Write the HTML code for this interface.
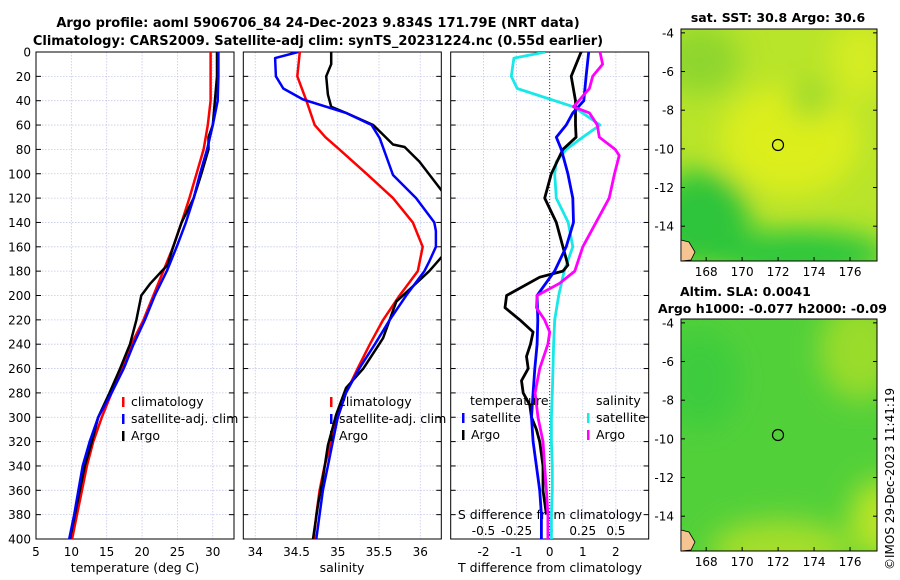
<!DOCTYPE html>
<html><head><meta charset="utf-8">
<style>
html,body{margin:0;padding:0;background:#fff;}
svg{display:block;font-family:"DejaVu Sans","Liberation Sans",sans-serif;}
</style></head>
<body>
<svg id="fig" width="900" height="580" viewBox="0 0 900 580" xmlns="http://www.w3.org/2000/svg">
<defs>
<clipPath id="c1"><rect x="36" y="52" width="198" height="487"/></clipPath>
<clipPath id="c2"><rect x="243.3" y="52" width="198" height="487"/></clipPath>
<clipPath id="c3"><rect x="450.7" y="52" width="198" height="487"/></clipPath>
<filter id="bl" x="-50%" y="-50%" width="200%" height="200%"><feGaussianBlur stdDeviation="14"/></filter>
<clipPath id="m1c"><rect x="681" y="29" width="196" height="232"/></clipPath>
<clipPath id="m2c"><rect x="681" y="319" width="196" height="232"/></clipPath>
</defs>
<text x="318" y="27" text-anchor="middle" font-size="13" font-weight="bold">Argo profile: aoml 5906706_84 24-Dec-2023 9.834S 171.79E (NRT data)</text>
<text x="318" y="45" text-anchor="middle" font-size="13" font-weight="bold">Climatology: CARS2009. Satellite-adj clim: synTS_20231224.nc (0.55d earlier)</text>
<g id="plots"></g>
<g>
<text x="778" y="22" text-anchor="middle" font-size="12.5" font-weight="bold">sat. SST: 30.8 Argo: 30.6</text>
<g clip-path="url(#m1c)">
<rect x="681" y="29" width="196" height="232" fill="#b8e42a"/>
<g filter="url(#bl)">
<ellipse cx="700" cy="60" rx="40" ry="35" fill="#8ed62e"/>
<ellipse cx="790" cy="140" rx="70" ry="55" fill="#dcee1c"/>
<ellipse cx="860" cy="60" rx="30" ry="40" fill="#d4ec20"/>
<ellipse cx="700" cy="220" rx="50" ry="50" fill="#2ec43a"/>
<ellipse cx="800" cy="255" rx="90" ry="25" fill="#2cc63c"/>
<ellipse cx="810" cy="100" rx="20" ry="18" fill="#94d82e"/>
</g></g>
<rect x="681" y="29" width="196" height="232" fill="none" stroke="#000" stroke-width="1"/>
<circle cx="778" cy="145" r="5.5" fill="none" stroke="#000" stroke-width="1.2"/>
<path d="M681 240 l8 2 l6 10 l-4 8 l-10 1z" fill="#f6c490" stroke="#000" stroke-width="0.8"/>
</g>
<g>
<text x="680" y="296" font-size="12.5" font-weight="bold">Altim. SLA: 0.0041</text>
<text x="658" y="313" font-size="12.5" font-weight="bold">Argo h1000: -0.077 h2000: -0.09</text>
<g clip-path="url(#m2c)">
<rect x="681" y="319" width="196" height="232" fill="#52d03a"/>
<g filter="url(#bl)">
<ellipse cx="860" cy="350" rx="40" ry="50" fill="#9adc2c"/>
<ellipse cx="780" cy="550" rx="70" ry="30" fill="#a4de2a"/>
<ellipse cx="880" cy="520" rx="30" ry="40" fill="#b8e428"/>
<ellipse cx="700" cy="380" rx="40" ry="50" fill="#3ccc3c"/>
</g></g>
<rect x="681" y="319" width="196" height="232" fill="none" stroke="#000" stroke-width="1"/>
<circle cx="778" cy="435" r="5.5" fill="none" stroke="#000" stroke-width="1.2"/>
<path d="M681 530 l8 2 l6 10 l-4 8 l-10 1z" fill="#f6c490" stroke="#000" stroke-width="0.8"/>
</g>
<g id="mapaxes"></g>
<text transform="translate(894,570) rotate(-90)" font-size="12">©IMOS 29-Dec-2023 11:41:19</text>
</svg>
<script>
const depthTicks=[0,20,40,60,80,100,120,140,160,180,200,220,240,260,280,300,320,340,360,380,400];
const tTicks=[5,10,15,20,25,30];
const sTicks=[34,34.5,35,35.5,36];
const dtTicks=[-2,-1,0,1,2];
const dsTicks=[-0.5,-0.25,0,0.25,0.5];
const dsTickLabels=["-0.5","-0.25","0","0.25","0.5"];

const tClimD=[0,20,40,60,80,100,120,140,160,180,200,220,240,260,280,300,320,340,360,380,400];
const tClim=[29.7,29.7,29.7,29.3,28.7,27.7,26.7,25.6,24.4,23.0,21.6,20.2,18.5,17.1,15.7,14.3,13.1,12.2,11.5,10.8,10.1];
const tSatD=[0,20,40,60,80,100,120,140,160,180,200,220,240,260,280,300,320,340,360,380,400];
const tSat=[30.8,30.8,30.7,30.0,29.2,28.2,27.3,26.2,24.9,23.5,21.8,20.4,18.8,17.4,15.7,13.8,12.6,11.6,11.0,10.4,9.7];
const tArgoD=[0,20,40,60,70,80,100,120,140,160,175,180,190,200,220,240,260,280,300,320,340,360,380,400];
const tArgo=[30.6,30.6,30.3,30.0,29.4,29.4,28.4,27.3,25.6,24.4,23.6,22.8,21.2,19.9,19.2,18.3,16.9,15.4,13.8,12.9,11.9,11.2,10.5,9.8];

const sClimD=[0,20,40,60,70,80,100,120,140,160,180,200,220,240,260,280,300,320,340,360,380,400];
const sClim=[34.54,34.51,34.62,34.72,34.85,35.02,35.35,35.67,35.91,36.03,35.97,35.75,35.55,35.39,35.24,35.10,35.00,34.92,34.84,34.78,34.74,34.71];
const sSatD=[0,5,20,30,39,50,60,71,101,120,140,147,160,172,180,200,220,240,260,280,300,320,340,360,380,400];
const sSat=[34.52,34.24,34.25,34.34,34.58,35.10,35.41,35.51,35.67,35.95,36.17,36.19,36.19,36.11,36.05,35.83,35.63,35.45,35.26,35.10,35.00,34.94,34.88,34.82,34.78,34.74];
const sArgoD=[0,10,20,35,45,50,60,76,78,90,113,130,150,169,180,195,205,235,260,276,298,323,350,372,400];
const sArgo=[34.92,34.92,34.86,34.88,34.92,35.10,35.43,35.67,35.81,35.99,36.25,36.45,36.5,36.25,36.11,35.87,35.71,35.55,35.31,35.10,34.98,34.88,34.82,34.76,34.70];

const dtSatD=[0,20,40,50,60,70,80,100,120,140,160,180,200,220,240,260,280,300,320,340,360,380,400];
const dtSat=[1.18,1.1,1.03,0.7,0.5,0.2,0.35,0.55,0.7,0.72,0.5,0.15,-0.38,-0.36,-0.38,-0.45,-0.5,-0.55,-0.5,-0.4,-0.3,-0.25,-0.25];
const dtArgoD=[0,20,40,60,70,80,100,120,140,160,175,180,185,200,210,220,230,240,250,260,270,280,290,300,310,320,340,360,380];
const dtArgo=[0.95,0.65,0.78,0.78,0.8,0.4,0.05,-0.15,0.2,0.4,0.55,0.4,-0.3,-1.3,-1.35,-0.9,-0.5,-0.58,-0.7,-0.65,-0.85,-0.8,-0.6,-0.55,-0.4,-0.3,-0.2,-0.2,-0.1];
const dsSatD=[0,5,20,30,45,60,70,80,90,100,120,140,160,180,200,220,240,260,280,300,320,340,360,380,400];
const dsSat=[-0.033,-0.27,-0.29,-0.245,0.18,0.38,0.25,0.125,0.05,0.038,0.05,0.14,0.175,0.11,0.068,0.038,0.03,0.025,0.02,0.013,0.013,0.02,0.02,0.013,0.013];
const dsArgoD=[0,10,20,30,45,50,60,70,80,85,100,120,140,160,180,190,200,210,220,230,240,260,280,300,320,340,360,380,400];
const dsArgo=[0.38,0.4,0.325,0.3,0.18,0.3,0.36,0.375,0.495,0.525,0.49,0.45,0.35,0.25,0.19,0.075,-0.095,-0.1,-0.038,0,-0.013,-0.075,-0.11,-0.088,-0.05,-0.038,-0.025,-0.013,-0.013];

const latTicks=[-4,-6,-8,-10,-12,-14];
const lonTicks=[168,170,172,174,176];

const NS="http://www.w3.org/2000/svg";
const TOP=52,BOT=539;
const yD=d=>TOP+d*(BOT-TOP)/400;
function mk(tag,attrs,parent){const e=document.createElementNS(NS,tag);for(const k in attrs)e.setAttribute(k,attrs[k]);parent.appendChild(e);return e;}
const root=document.getElementById('plots');

const panels=[
 {x0:36,x1:234,v0:5,v1:(234-36)/7.07+5,clip:'c1',grid:[10,15,20,25,30],name:'temperature-panel'},
 {x0:243.3,x1:441.3,v0:33.855,v1:33.855+198/82.5,clip:'c2',grid:[34,34.5,35,35.5,36],name:'salinity-panel'},
 {x0:450.7,x1:648.7,v0:-2.99,v1:-2.99+198/33.1,clip:'c3',grid:[-2,-1,0,1,2],name:'difference-panel'}
];
panels.forEach(p=>{p.sx=v=>p.x0+(v-p.v0)*(p.x1-p.x0)/(p.v1-p.v0);});
const p3s=v=>panels[2].sx(v*4);

panels.forEach((p,pi)=>{
 const g=mk('g',{},root);
 
 
 depthTicks.forEach(d=>{
  const l=mk('line',{x1:p.x0,x2:p.x1,y1:yD(d),y2:yD(d),stroke:'#c4c8e8','stroke-width':0.8,'stroke-dasharray':'1.5,1.5'},g);
  
  
  mk('line',{x1:p.x0,x2:p.x0+5,y1:yD(d),y2:yD(d),stroke:'#000'},g);
  mk('line',{x1:p.x1-5,x2:p.x1,y1:yD(d),y2:yD(d),stroke:'#000'},g);
 });
 p.grid.forEach(v=>{
  const l=mk('line',{x1:p.sx(v),x2:p.sx(v),y1:TOP,y2:BOT,stroke:'#c4c8e8','stroke-width':0.8,'stroke-dasharray':'1.5,1.5'},g);
  
  
 });
 const r=mk('rect',{x:p.x0,y:TOP,width:p.x1-p.x0,height:BOT-TOP,fill:'none',stroke:'#000','stroke-width':1},g);
 
 
});
{const l=mk('line',{x1:panels[2].sx(0),x2:panels[2].sx(0),y1:TOP,y2:BOT,stroke:'#335',"stroke-width":1,'stroke-dasharray':'1,2'},root);

}

depthTicks.forEach(d=>{
 const t=mk('text',{x:31,y:yD(d)+4.5,'text-anchor':'end','font-size':12},root);
 t.textContent=d;
 
 
});
function xlabels(ticks,sx,y,labels){ticks.forEach((v,i)=>{const t=mk('text',{x:sx(v),y:y,'text-anchor':'middle','font-size':12},root);t.textContent=labels?labels[i]:v;

});}
xlabels(tTicks,panels[0].sx,556);
xlabels(sTicks,panels[1].sx,556);
xlabels(dtTicks,panels[2].sx,556);
xlabels(dsTicks,p3s,535,dsTickLabels);
function title(x,y,s,name,anchor){const t=mk('text',{x:x,y:y,'text-anchor':anchor||'middle','font-size':12.5},root);t.textContent=s;

}
title(135,572,'temperature (deg C)','temperature-axis-title');
title(342,572,'salinity','salinity-axis-title');
title(550,572,'T difference from climatology','t-difference-axis-title');
title(550,519,'S difference from climatology','s-difference-axis-title');

function line(ds,vs,sx,color,w,clip,name){
 const pts=ds.map((d,i)=>sx(vs[i]).toFixed(1)+','+yD(d).toFixed(1)).join(' ');
 const l=mk('polyline',{points:pts,fill:'none',stroke:color,'stroke-width':w,'stroke-linejoin':'round','clip-path':'url(#'+clip+')'},root);
 
 
}
line(tClimD,tClim,panels[0].sx,'#f00',2.5,'c1','temp-climatology-line');
line(tArgoD,tArgo,panels[0].sx,'#000',2.5,'c1','temp-argo-line');
line(tSatD,tSat,panels[0].sx,'#00f',2.5,'c1','temp-satellite-line');
line(sClimD,sClim,panels[1].sx,'#f00',2.5,'c2','sal-climatology-line');
line(sArgoD,sArgo,panels[1].sx,'#000',2.5,'c2','sal-argo-line');
line(sSatD,sSat,panels[1].sx,'#00f',2.5,'c2','sal-satellite-line');
line(dsSatD,dsSat,p3s,'#18e8e8',2.8,'c3','sal-diff-satellite-line');
line(dtArgoD,dtArgo,panels[2].sx,'#000',2.8,'c3','temp-diff-argo-line');
line(dtSatD,dtSat,panels[2].sx,'#00f',2.8,'c3','temp-diff-satellite-line');
line(dsArgoD,dsArgo,p3s,'#f0f',2.8,'c3','sal-diff-argo-line');

function legend(x,y,color,label){
 const g=mk('g',{},root);
 
 
 mk('rect',{x:x,y:y-9,width:2.5,height:10,fill:color},g);
 const t=mk('text',{x:x+9,y:y,'font-size':12.5},g);t.textContent=label;
}
legend(122,406,'#f00','climatology');
legend(122,423,'#00f','satellite-adj. clim');
legend(122,440,'#000','Argo');
legend(330,406,'#f00','climatology');
legend(330,423,'#00f','satellite-adj. clim');
legend(330,440,'#000','Argo');
title(470,405,'temperature','legend-temperature-heading','start');
title(596,405,'salinity','legend-salinity-heading','start');
legend(462,422,'#00f','satellite');
legend(462,439,'#000','Argo');
legend(587,422,'#18e8e8','satellite');
legend(587,439,'#f0f','Argo');

const ma=document.getElementById('mapaxes');
[[29,261],[319,551]].forEach(([t0,t1],mi)=>{
 const latY=v=>t0+(-3.8-v)*(t1-t0)/12;
 const lonX=v=>681+(v-166.6)*196/10.9;
 latTicks.forEach(v=>{
  mk('line',{x1:681,x2:685,y1:latY(v),y2:latY(v),stroke:'#000'},ma);
  mk('line',{x1:873,x2:877,y1:latY(v),y2:latY(v),stroke:'#000'},ma);
  const t=mk('text',{x:674,y:latY(v)+4.5,'text-anchor':'end','font-size':12},ma);t.textContent=v;
  
  
 });
 lonTicks.forEach(v=>{
  mk('line',{x1:lonX(v),x2:lonX(v),y1:t1-4,y2:t1,stroke:'#000'},ma);
  const t=mk('text',{x:lonX(v),y:t1+15,'text-anchor':'middle','font-size':12},ma);t.textContent=v;
  
  
 });
});
</script>
</body></html>
